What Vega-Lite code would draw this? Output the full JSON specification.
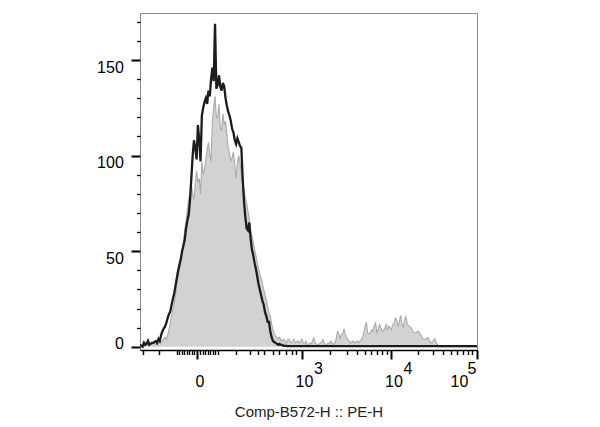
{
  "$schema": "https://vega.github.io/schema/vega-lite/v6.json",
  "width": 337,
  "height": 337,
  "autosize": {"type": "none"},
  "padding": {"left": 140, "top": 13, "right": 123, "bottom": 77},
  "background": "white",
  "config": {
    "view": {"stroke": "#8c8c8c", "strokeWidth": 1},
    "font": "Liberation Sans"
  },
  "data": {
    "values": [
      {"channel":0,"shaded":0,"outline":1},{"channel":1,"shaded":0.5,"outline":0.5},{"channel":2,"shaded":1.5,"outline":0},{"channel":3,"shaded":3,"outline":2},{"channel":4,"shaded":2.5,"outline":1},{"channel":5,"shaded":2,"outline":1.5},{"channel":6,"shaded":4,"outline":3},{"channel":7,"shaded":3,"outline":1},{"channel":8,"shaded":2,"outline":1.5},{"channel":9,"shaded":1,"outline":2},
      {"channel":10,"shaded":1.5,"outline":2},{"channel":11,"shaded":2,"outline":2.5},{"channel":12,"shaded":1,"outline":3},{"channel":13,"shaded":1.5,"outline":2},{"channel":14,"shaded":2,"outline":4},{"channel":15,"shaded":2,"outline":3},{"channel":16,"shaded":2.5,"outline":6},{"channel":17,"shaded":3,"outline":8},{"channel":18,"shaded":4,"outline":9.5},{"channel":19,"shaded":5,"outline":10.5},
      {"channel":20,"shaded":4,"outline":12.5},{"channel":21,"shaded":6,"outline":15},{"channel":22,"shaded":9,"outline":17},{"channel":23,"shaded":12.5,"outline":18.5},{"channel":24,"shaded":16.5,"outline":22},{"channel":25,"shaded":20,"outline":25},{"channel":26,"shaded":23,"outline":28},{"channel":27,"shaded":27,"outline":32},{"channel":28,"shaded":33,"outline":36},{"channel":29,"shaded":37,"outline":40},
      {"channel":30,"shaded":40,"outline":43},{"channel":31,"shaded":45,"outline":46},{"channel":32,"shaded":50,"outline":50},{"channel":33,"shaded":55,"outline":53},{"channel":34,"shaded":61,"outline":56},{"channel":35,"shaded":66,"outline":62},{"channel":36,"shaded":72,"outline":66},{"channel":37,"shaded":77,"outline":69},{"channel":38,"shaded":80,"outline":77},{"channel":39,"shaded":85,"outline":88},
      {"channel":40,"shaded":80,"outline":100},{"channel":41,"shaded":77,"outline":108},{"channel":42,"shaded":85,"outline":104},{"channel":43,"shaded":92,"outline":98},{"channel":44,"shaded":86,"outline":116},{"channel":45,"shaded":88,"outline":108},{"channel":46,"shaded":80,"outline":97},{"channel":47,"shaded":97,"outline":121},{"channel":48,"shaded":90,"outline":125},{"channel":49,"shaded":93,"outline":128},
      {"channel":50,"shaded":98,"outline":130},{"channel":51,"shaded":103,"outline":127},{"channel":52,"shaded":107,"outline":134},{"channel":53,"shaded":101,"outline":131},{"channel":54,"shaded":97,"outline":140},{"channel":55,"shaded":118,"outline":146},{"channel":56,"shaded":126,"outline":139},{"channel":57,"shaded":131,"outline":169},{"channel":58,"shaded":120,"outline":135},{"channel":59,"shaded":120,"outline":137},
      {"channel":60,"shaded":127,"outline":142},{"channel":61,"shaded":115,"outline":136},{"channel":62,"shaded":113,"outline":134},{"channel":63,"shaded":122,"outline":138},{"channel":64,"shaded":116,"outline":136},{"channel":65,"shaded":118,"outline":130},{"channel":66,"shaded":111,"outline":126},{"channel":67,"shaded":104,"outline":123},{"channel":68,"shaded":101,"outline":121},{"channel":69,"shaded":97,"outline":118},
      {"channel":70,"shaded":99,"outline":114},{"channel":71,"shaded":102,"outline":112},{"channel":72,"shaded":95,"outline":108},{"channel":73,"shaded":88,"outline":106},{"channel":74,"shaded":97,"outline":109},{"channel":75,"shaded":100,"outline":107},{"channel":76,"shaded":96,"outline":105},{"channel":77,"shaded":90,"outline":104},{"channel":78,"shaded":86,"outline":88},{"channel":79,"shaded":82,"outline":76},
      {"channel":80,"shaded":78,"outline":68},{"channel":81,"shaded":75,"outline":62},{"channel":82,"shaded":71,"outline":61},{"channel":83,"shaded":67,"outline":65},{"channel":84,"shaded":61,"outline":57},{"channel":85,"shaded":58,"outline":51},{"channel":86,"shaded":55,"outline":48},{"channel":87,"shaded":51,"outline":44},{"channel":88,"shaded":48,"outline":41},{"channel":89,"shaded":44,"outline":37},
      {"channel":90,"shaded":41,"outline":33},{"channel":91,"shaded":38,"outline":30},{"channel":92,"shaded":36,"outline":27},{"channel":93,"shaded":33,"outline":24},{"channel":94,"shaded":30,"outline":22},{"channel":95,"shaded":27,"outline":18},{"channel":96,"shaded":24,"outline":16},{"channel":97,"shaded":21,"outline":13},{"channel":98,"shaded":18,"outline":13},{"channel":99,"shaded":16,"outline":8},
      {"channel":100,"shaded":12,"outline":5},{"channel":101,"shaded":9,"outline":3},{"channel":102,"shaded":7,"outline":2.5},{"channel":103,"shaded":5.5,"outline":2},{"channel":104,"shaded":5,"outline":1.5},{"channel":105,"shaded":4,"outline":1},{"channel":106,"shaded":5,"outline":1.5},{"channel":107,"shaded":3.5,"outline":1},{"channel":108,"shaded":3,"outline":1},{"channel":109,"shaded":4,"outline":0.5},
      {"channel":110,"shaded":3,"outline":0.5},{"channel":111,"shaded":2,"outline":0.5},{"channel":112,"shaded":3.5,"outline":0.3},{"channel":113,"shaded":4,"outline":0.3},{"channel":114,"shaded":3,"outline":0.3},{"channel":115,"shaded":2,"outline":0.3},{"channel":116,"shaded":3,"outline":0.3},{"channel":117,"shaded":4,"outline":0.3},{"channel":118,"shaded":2,"outline":0.3},{"channel":119,"shaded":2.5,"outline":0.3},
      {"channel":120,"shaded":3,"outline":0.3},{"channel":121,"shaded":2,"outline":0.3},{"channel":122,"shaded":3,"outline":0.3},{"channel":123,"shaded":4,"outline":0.3},{"channel":124,"shaded":2,"outline":0.3},{"channel":125,"shaded":1.5,"outline":0.3},{"channel":126,"shaded":3,"outline":0.3},{"channel":127,"shaded":1.5,"outline":0.3},{"channel":128,"shaded":1,"outline":0.3},{"channel":129,"shaded":2,"outline":0.3},
      {"channel":130,"shaded":1.5,"outline":0.3},{"channel":131,"shaded":3,"outline":0.3},{"channel":132,"shaded":4.7,"outline":0.3},{"channel":133,"shaded":2,"outline":0.3},{"channel":134,"shaded":1.5,"outline":0.3},{"channel":135,"shaded":1,"outline":0.3},{"channel":136,"shaded":1.5,"outline":0.3},{"channel":137,"shaded":2,"outline":0.3},{"channel":138,"shaded":2.5,"outline":0.3},{"channel":139,"shaded":3.8,"outline":0.3},
      {"channel":140,"shaded":2,"outline":0.3},{"channel":141,"shaded":1,"outline":0.3},{"channel":142,"shaded":1.5,"outline":0.3},{"channel":143,"shaded":2,"outline":0.3},{"channel":144,"shaded":1.5,"outline":0.3},{"channel":145,"shaded":3,"outline":0.3},{"channel":146,"shaded":2,"outline":0.3},{"channel":147,"shaded":1,"outline":0.3},{"channel":148,"shaded":2,"outline":0.3},{"channel":149,"shaded":4,"outline":0.3},
      {"channel":150,"shaded":8,"outline":0.3},{"channel":151,"shaded":7,"outline":0.3},{"channel":152,"shaded":4.5,"outline":0.3},{"channel":153,"shaded":6.4,"outline":0.3},{"channel":154,"shaded":7,"outline":0.3},{"channel":155,"shaded":9.4,"outline":0.3},{"channel":156,"shaded":6,"outline":0.3},{"channel":157,"shaded":4.5,"outline":0.3},{"channel":158,"shaded":3.8,"outline":0.3},{"channel":159,"shaded":3,"outline":0.3},
      {"channel":160,"shaded":2,"outline":0.3},{"channel":161,"shaded":2.5,"outline":0.3},{"channel":162,"shaded":3,"outline":0.3},{"channel":163,"shaded":2,"outline":0.3},{"channel":164,"shaded":2.5,"outline":0.3},{"channel":165,"shaded":3,"outline":0.3},{"channel":166,"shaded":2,"outline":0.3},{"channel":167,"shaded":3,"outline":0.3},{"channel":168,"shaded":3.5,"outline":0.3},{"channel":169,"shaded":4.7,"outline":0.3},
      {"channel":170,"shaded":7,"outline":0.3},{"channel":171,"shaded":11,"outline":0.3},{"channel":172,"shaded":12.9,"outline":0.3},{"channel":173,"shaded":7,"outline":0.3},{"channel":174,"shaded":6.5,"outline":0.3},{"channel":175,"shaded":7.5,"outline":0.3},{"channel":176,"shaded":9,"outline":0.3},{"channel":177,"shaded":8,"outline":0.3},{"channel":178,"shaded":11,"outline":0.3},{"channel":179,"shaded":12.5,"outline":0.3},
      {"channel":180,"shaded":7.3,"outline":0.3},{"channel":181,"shaded":9,"outline":0.3},{"channel":182,"shaded":11.7,"outline":0.3},{"channel":183,"shaded":10,"outline":0.3},{"channel":184,"shaded":8.5,"outline":0.3},{"channel":185,"shaded":8.2,"outline":0.3},{"channel":186,"shaded":10,"outline":0.3},{"channel":187,"shaded":11.7,"outline":0.3},{"channel":188,"shaded":9,"outline":0.3},{"channel":189,"shaded":10.8,"outline":0.3},
      {"channel":190,"shaded":10,"outline":0.3},{"channel":191,"shaded":9,"outline":0.3},{"channel":192,"shaded":11.5,"outline":0.3},{"channel":193,"shaded":12.5,"outline":0.3},{"channel":194,"shaded":15,"outline":0.3},{"channel":195,"shaded":14,"outline":0.3},{"channel":196,"shaded":10.8,"outline":0.3},{"channel":197,"shaded":13,"outline":0.3},{"channel":198,"shaded":16.4,"outline":0.3},{"channel":199,"shaded":12,"outline":0.3},
      {"channel":200,"shaded":9.9,"outline":0.3},{"channel":201,"shaded":14,"outline":0.3},{"channel":202,"shaded":15.7,"outline":0.3},{"channel":203,"shaded":12,"outline":0.3},{"channel":204,"shaded":11,"outline":0.3},{"channel":205,"shaded":10.5,"outline":0.3},{"channel":206,"shaded":9.9,"outline":0.3},{"channel":207,"shaded":8.5,"outline":0.3},{"channel":208,"shaded":7.5,"outline":0.3},{"channel":209,"shaded":7.3,"outline":0.3},
      {"channel":210,"shaded":7.5,"outline":0.3},{"channel":211,"shaded":8.2,"outline":0.3},{"channel":212,"shaded":7.5,"outline":0.3},{"channel":213,"shaded":6.5,"outline":0.3},{"channel":214,"shaded":5.6,"outline":0.3},{"channel":215,"shaded":4,"outline":0.3},{"channel":216,"shaded":3.8,"outline":0.3},{"channel":217,"shaded":4,"outline":0.3},{"channel":218,"shaded":4.5,"outline":0.3},{"channel":219,"shaded":4.7,"outline":0.3},
      {"channel":220,"shaded":3,"outline":0.3},{"channel":221,"shaded":2,"outline":0.3},{"channel":222,"shaded":2.5,"outline":0.3},{"channel":223,"shaded":3.5,"outline":0.3},{"channel":224,"shaded":4.2,"outline":0.3},{"channel":225,"shaded":2,"outline":0.3},{"channel":226,"shaded":1,"outline":0.3},{"channel":227,"shaded":0.7,"outline":0.3},{"channel":228,"shaded":0.3,"outline":0.3},{"channel":229,"shaded":0,"outline":0.3},
      {"channel":230,"shaded":0,"outline":0.3},{"channel":232,"shaded":0,"outline":0.3},{"channel":234,"shaded":0,"outline":0.3},{"channel":236,"shaded":0,"outline":0.3},{"channel":238,"shaded":0,"outline":0.3},{"channel":240,"shaded":0,"outline":0.3},{"channel":242,"shaded":0,"outline":0.3},{"channel":244,"shaded":0,"outline":0.3},{"channel":246,"shaded":0,"outline":0.3},{"channel":248,"shaded":0,"outline":0.3},
      {"channel":250,"shaded":0,"outline":0.3},{"channel":252,"shaded":0,"outline":0.3},{"channel":254,"shaded":0,"outline":0.3},{"channel":256,"shaded":0,"outline":0.3}
    ]
  },
  "resolve": {"axis": {"x": "independent", "y": "independent"}},
  "layer": [
    {
      "mark": {"type": "area", "color": "#d2d2d2", "interpolate": "linear", "clip": true},
      "encoding": {
        "x": {
          "field": "channel", "type": "quantitative",
          "scale": {"domain": [0, 256], "nice": false, "zero": false},
          "axis": {
            "orient": "bottom",
            "values": [2.5, 14.7, 28.1, 30, 31.9, 33.8, 35.7, 37.6, 39.5, 41.4, 43.6, 45.9, 47.8, 49.7, 51.6, 53.5, 55.4, 57.3, 59.2, 73.1, 83.3, 89.6, 94, 101, 105.4, 111, 115.4, 118.8, 123, 144.7, 156.9, 164.5, 170.8, 175.6, 180, 184, 187.4, 191, 211, 222.4, 230.2, 236.5, 241, 245.5, 249, 252.4, 256],
            "labelExpr": "datum.value === 43.6 ? '0' : (datum.value === 123 || datum.value === 191 || datum.value === 256) ? '10' : ''",
            "grid": false,
            "domain": true, "domainColor": "#000000", "domainWidth": 1.5,
            "ticks": true, "tickColor": "#000000",
            "tickSize": {"condition": {"test": "datum.value === 43.6 || datum.value === 123 || datum.value === 191 || datum.value === 256", "value": 9}, "value": 4.5},
            "tickWidth": {"condition": {"test": "datum.value === 43.6 || datum.value === 123 || datum.value === 191 || datum.value === 256", "value": 2}, "value": 1.4},
            "labelFont": "Liberation Sans", "labelFontSize": 16, "labelColor": "#000000",
            "labelPadding": 14, "labelBaseline": "top",
            "labelFlush": false, "labelOverlap": false, "labelBound": false,
            "labelOffset": {"condition": {"test": "datum.value === 256", "value": -18}, "value": 2},
            "title": "Comp-B572-H :: PE-H",
            "titleFont": "Liberation Sans", "titleFontSize": 15, "titleFontWeight": "normal", "titleColor": "#222222", "titlePadding": 15
          }
        },
        "y": {
          "field": "shaded", "type": "quantitative",
          "scale": {"domain": [-1.7, 174.6], "nice": false, "zero": false},
          "axis": {
            "orient": "left",
            "values": [0, 50, 100, 150],
            "labelExpr": "datum.value === 0 ? '' : datum.label",
            "grid": false, "domain": false, "title": null,
            "ticks": true, "tickColor": "#000000", "tickSize": 9, "tickWidth": 2,
            "labelFont": "Liberation Sans", "labelFontSize": 16, "labelColor": "#000000",
            "labelPadding": 7.7, "labelBaseline": "top", "labelOffset": -1,
            "labelOverlap": false, "labelFlush": false, "labelBound": false
          }
        },
        "y2": {"datum": 0}
      }
    },
    {
      "mark": {"type": "line", "color": "#ababab", "strokeWidth": 1.1, "interpolate": "linear", "clip": true},
      "encoding": {
        "x": {"field": "channel", "type": "quantitative", "axis": null},
        "y": {
          "field": "shaded", "type": "quantitative",
          "axis": {
            "orient": "left",
            "values": [10, 20, 30, 40, 60, 70, 80, 90, 110, 120, 130, 140, 160, 170],
            "labels": false, "grid": false, "domain": false, "title": null,
            "ticks": true, "tickColor": "#000000", "tickSize": 3.5, "tickWidth": 1.3
          }
        }
      }
    },
    {
      "mark": {"type": "line", "color": "#1c1c1c", "strokeWidth": 2.3, "interpolate": "linear", "clip": true},
      "encoding": {
        "x": {
          "field": "channel", "type": "quantitative",
          "axis": {
            "orient": "bottom",
            "values": [123, 191, 256],
            "labelExpr": "datum.value === 123 ? '3' : datum.value === 191 ? '4' : '5'",
            "grid": false, "domain": false, "ticks": false,
            "labelFont": "Liberation Sans", "labelFontSize": 16, "labelColor": "#000000",
            "labelPadding": 10, "labelBaseline": "top",
            "labelFlush": false, "labelOverlap": false, "labelBound": false,
            "labelOffset": {"condition": {"test": "datum.value === 256", "value": -5.5}, "value": 16},
            "title": null
          }
        },
        "y": {
          "field": "outline", "type": "quantitative",
          "axis": {
            "orient": "left",
            "values": [0],
            "labelExpr": "'0'",
            "grid": false, "domain": false, "ticks": false, "title": null,
            "labelFont": "Liberation Sans", "labelFontSize": 16, "labelColor": "#000000",
            "labelPadding": 16.7, "labelBaseline": "alphabetic", "labelOffset": 1.5,
            "labelOverlap": false, "labelFlush": false, "labelBound": false
          }
        }
      }
    }
  ]
}
